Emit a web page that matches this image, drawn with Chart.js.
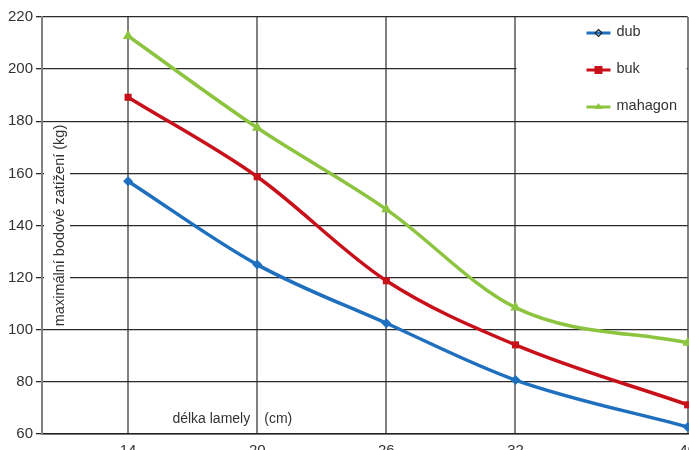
<!DOCTYPE html>
<html>
<head>
<meta charset="utf-8">
<script src="https://cdn.jsdelivr.net/npm/chart.js@4/dist/chart.umd.min.js"></script>
<style>
  html, body { margin: 0; padding: 0; overflow: hidden; background: #fff; }
  #wrap { width: 689px; height: 450px; overflow: hidden; }
</style>
</head>
<body>
<div id="wrap"><canvas id="chart" width="704" height="471"></canvas></div>
<script>
const lengths = [14, 20, 26, 32, 40];
const xTicks = [14, 20, 26, 32, 40];
const seriesNames = ["dub", "buk", "mahagon"];
const dub = [157, 125, 102.5, 80.7, 62.7];
const buk = [189.2, 158.7, 118.8, 94.2, 71.2];
const mahagon = [212.7, 177.5, 146.2, 108.5, 95];
const yTitle = "maximální bodové zatížení (kg)";
const xTitle = ["délka lamely", "(cm)"];

const colors = ["#1f6fbf", "#c8101a", "#8cc43f"];
const styles = ["rectRot", "rect", "triangle"];
const radii = [5, 5, 6];

const FONT = "'Liberation Sans', Arial, sans-serif";

function makeSet(i, values) {
  return {
    label: seriesNames[i],
    data: lengths.map((x, k) => ({ x: x, y: values[k] })),
    borderColor: colors[i],
    backgroundColor: colors[i],
    borderWidth: 3.5,
    pointStyle: styles[i],
    pointRadius: radii[i],
    pointBorderWidth: 0,
    tension: 0.3,
    cubicInterpolationMode: "monotone",
    clip: false,
  };
}

const overlay = {
  id: "overlay",
  beforeDatasetsDraw(chart) {
    const { ctx, chartArea, scales } = chart;
    const xs = scales.x, ys = scales.y;
    ctx.save();

    // y title with white backing
    ctx.font = "14.5px " + FONT;
    const tw = ctx.measureText(yTitle).width;
    const cy = ys.getPixelForValue(140);
    ctx.fillStyle = "#fff";
    ctx.fillRect(chartArea.left + 2, cy - tw / 2 - 2, 26, tw + 4);
    ctx.translate(chartArea.left + 18, cy);
    ctx.rotate(-Math.PI / 2);
    ctx.fillStyle = "#333";
    ctx.textAlign = "center";
    ctx.textBaseline = "middle";
    ctx.fillText(yTitle, 0, 0);
    ctx.setTransform(1, 0, 0, 1, 0, 0);

    // x title
    ctx.font = "14px " + FONT;
    const gx = xs.getPixelForValue(20);
    const ty = ys.bottom - 15;
    ctx.textBaseline = "middle";
    ctx.textAlign = "right";
    ctx.fillText(xTitle[0], gx - 7, ty);
    ctx.textAlign = "left";
    ctx.fillText(xTitle[1], gx + 7, ty);

    // legend box
    const bx = xs.getPixelForValue(32) + 1;
    const by = ys.getPixelForValue(220) + 1;
    const bb = ys.getPixelForValue(180) - 1;
    ctx.fillStyle = "#fff";
    ctx.fillRect(bx, by, chartArea.right - 1 - bx, bb - by);
    chart.data.datasets.forEach((ds, i) => {
      const y = by + 15 + i * 37;
      const lx = bx + 70;
      ctx.strokeStyle = ds.borderColor;
      ctx.lineWidth = 3;
      ctx.beginPath();
      ctx.moveTo(lx, y);
      ctx.lineTo(lx + 24, y);
      ctx.stroke();
      ctx.fillStyle = i === 0 ? "#222" : ds.backgroundColor;
      ctx.strokeStyle = i === 0 ? "#222" : ds.backgroundColor;
      ctx.beginPath();
      if (i === 0) {
        ctx.moveTo(lx + 12, y - 3.5); ctx.lineTo(lx + 15.5, y); ctx.lineTo(lx + 12, y + 3.5); ctx.lineTo(lx + 8.5, y);
        ctx.closePath(); ctx.lineWidth = 1.2; ctx.stroke();
      } else if (i === 1) {
        ctx.fillRect(lx + 8, y - 4, 8, 8);
      } else {
        ctx.moveTo(lx + 12, y - 4); ctx.lineTo(lx + 16, y + 2); ctx.lineTo(lx + 8, y + 2);
        ctx.closePath(); ctx.fill();
      }
      ctx.fillStyle = "#333";
      ctx.font = "14.5px " + FONT;
      ctx.textAlign = "left";
      ctx.textBaseline = "middle";
      ctx.fillText(ds.label, lx + 30, y - 1);
    });
    ctx.restore();
  },
};

new Chart(document.getElementById("chart"), {
  type: "line",
  data: { datasets: [makeSet(0, dub), makeSet(1, buk), makeSet(2, mahagon)] },
  options: {
    responsive: false,
    animation: false,
    devicePixelRatio: 1,
    layout: { padding: { top: 17, right: 16, left: 0, bottom: 0 } },
    plugins: { legend: { display: false }, tooltip: { enabled: false } },
    scales: {
      x: {
        type: "linear",
        min: 10,
        max: 40,
        afterBuildTicks: (s) => { s.ticks = xTicks.map((v) => ({ value: v })); },
        afterFit: (s) => { s.height = 37; },
        grid: { color: "#808080", lineWidth: 2, drawTicks: false },
        border: { display: true, color: "#222", width: 1.5 },
        ticks: { color: "#333", font: { family: FONT, size: 15 }, padding: 8, maxRotation: 0 },
      },
      y: {
        min: 60,
        max: 220,
        afterFit: (s) => { s.width = 42; },
        grid: { color: "#2a2a2a", lineWidth: 1.3, tickLength: 6, tickColor: "#2a2a2a" },
        border: { display: true, color: "#808080", width: 2 },
        ticks: { stepSize: 20, color: "#333", font: { family: FONT, size: 15 }, padding: 3 },
      },
    },
  },
  plugins: [overlay],
});
</script>
</body>
</html>
